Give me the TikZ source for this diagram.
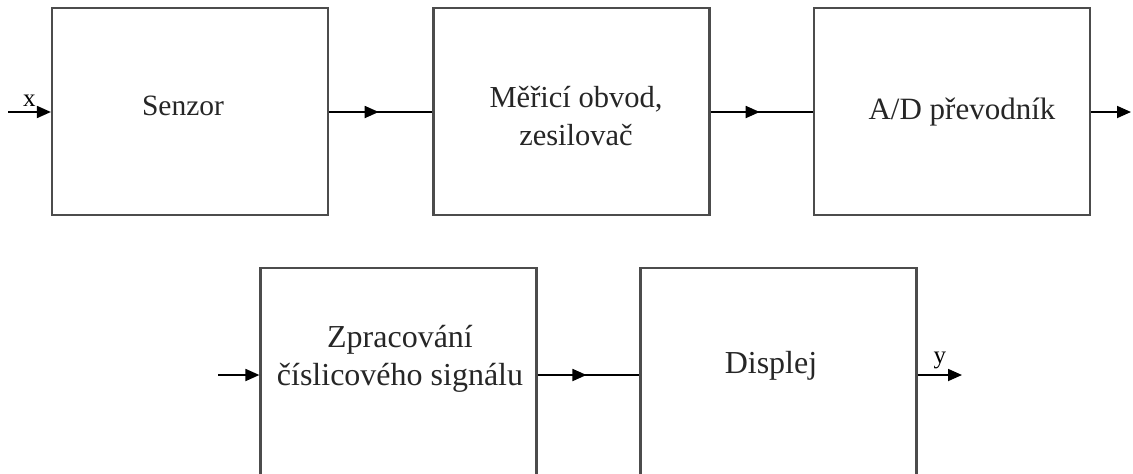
\documentclass[tikz,border=0pt]{standalone}
\usepackage{fontspec}
\setmainfont{Liberation Serif}
\usetikzlibrary{
    arrows.meta,
    positioning,
    calc,
    decorations.markings
}

\begin{document}
\begin{tikzpicture}[
    x=1pt, y=-1pt,
    font=\fontsize{27}{38}\selectfont,
    block/.style={rectangle, draw=black!70, line width=2.2pt,
                  minimum width=276pt, minimum height=207pt,
                  inner sep=0pt},
    label/.style={align=center, text=black!85},
    arrow/.style={-{Triangle[length=14pt,width=12pt]}, line width=1.8pt},
    midarrow/.style={line width=1.8pt, postaction={decorate},
                     decoration={markings,
                     mark=at position 0.48 with {\arrow{Triangle[length=14pt,width=12pt]}}}}
]
    \useasboundingbox (0,0) rectangle (1133,474);

    % Blocks
    \node (senzor) [block] at (190,111.5) {};
    \node (obvod) [block] at (571.5,111.5) {};
    \node (prevodnik) [block] at (952,111.5) {};
    \node (zpracovani) [block, minimum height=212pt] at (398.5,374) {};
    \node (displej) [block, minimum height=212pt] at (778.5,374) {};

    % Texts
    \node (tsenzor) [label, font=\fontsize{29.5}{38}\selectfont] at (183,106) {Senzor};
    \node (tobvod) [label, font=\fontsize{30.5}{38}\selectfont] at (576,116) {Měřicí obvod,\\zesilovač};
    \node (tprevodnik) [label, font=\fontsize{31}{38}\selectfont] at (962,112) {A/D převodník};
    \node (tzpracovani) [label, font=\fontsize{32}{38}\selectfont] at (400,359) {Zpracování\\číslicového signálu};
    \node (tdisplej) [label, font=\fontsize{32}{38}\selectfont] at (771,366) {Displej};

    % Inputs and outputs
    \coordinate (vstup) at (8,112);
    \coordinate (vystup) at (1131,112);
    \coordinate (vstup2) at (218,375);
    \coordinate (vystup2) at (962,375);

    % Connections
    \draw [arrow] (vstup) -- (senzor.west |- vstup) node[midway, above=1pt, font=\fontsize{25}{28}\selectfont] {x};
    \draw [midarrow] (senzor.east |- vstup) -- (obvod.west |- vstup);
    \draw [midarrow] (obvod.east |- vstup) -- (prevodnik.west |- vstup);
    \draw [arrow] (prevodnik.east |- vystup) -- (vystup);
    \draw [arrow] (vstup2) -- (zpracovani.west |- vstup2);
    \draw [midarrow] (zpracovani.east |- vstup2) -- (displej.west |- vstup2);
    \draw [arrow] (displej.east |- vystup2) -- (vystup2) node[midway, above=2pt, font=\fontsize{25}{28}\selectfont] {y};

\end{tikzpicture}
\end{document}
